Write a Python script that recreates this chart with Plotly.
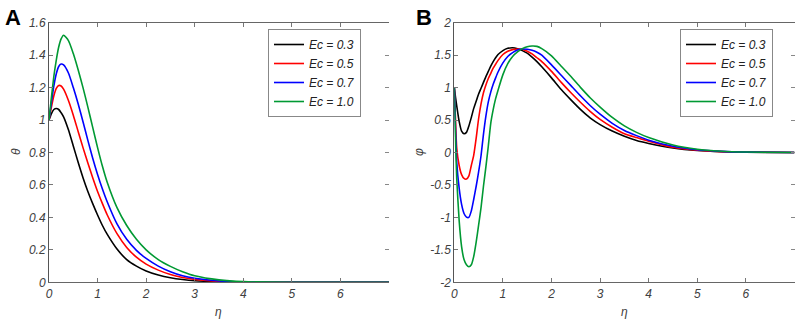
import plotly.graph_objects as go

# ---------------- data ----------------
ec_labels = ["Ec = 0.3", "Ec = 0.5", "Ec = 0.7", "Ec = 1.0"]
colors = ["#000000", "#ff0000", "#0000ff", "#009933"]

# Panel A: theta(eta)
eta_a = [0, 0.05, 0.1, 0.15, 0.2, 0.25, 0.3, 0.4, 0.5, 0.6, 0.7, 0.8, 0.9, 1.0,
         1.1, 1.2, 1.4, 1.6, 1.8, 2.0, 2.25, 2.5, 2.75, 3.0, 3.5, 4.0, 5.0, 6.0, 7.0]
theta_03 = [1.0, 1.04, 1.065, 1.071, 1.065, 1.045, 1.02, 0.94, 0.84, 0.74, 0.645, 0.56, 0.485, 0.415,
            0.35, 0.295, 0.205, 0.14, 0.10, 0.07, 0.045, 0.028, 0.017, 0.01, 0.004, 0.001, 0, 0, 0]
theta_05 = [1.0, 1.08, 1.15, 1.195, 1.213, 1.21, 1.19, 1.12, 1.03, 0.93, 0.83, 0.735, 0.645, 0.56,
            0.485, 0.415, 0.30, 0.215, 0.155, 0.112, 0.075, 0.048, 0.03, 0.018, 0.006, 0.002, 0, 0, 0]
theta_07 = [1.0, 1.11, 1.21, 1.285, 1.33, 1.345, 1.34, 1.29, 1.20, 1.10, 0.99, 0.875, 0.765, 0.665,
            0.575, 0.495, 0.36, 0.265, 0.197, 0.147, 0.10, 0.065, 0.04, 0.025, 0.008, 0.002, 0, 0, 0]
theta_10 = [1.0, 1.14, 1.27, 1.37, 1.45, 1.50, 1.523, 1.49, 1.41, 1.31, 1.20, 1.08, 0.955, 0.83,
            0.715, 0.615, 0.46, 0.35, 0.265, 0.20, 0.14, 0.098, 0.065, 0.04, 0.015, 0.004, 0, 0, 0]

# Panel B: phi(eta)
eta_b = [0, 0.025, 0.05, 0.1, 0.15, 0.2, 0.25, 0.3, 0.35, 0.4, 0.45, 0.5, 0.55, 0.6, 0.65, 0.7,
         0.75, 0.8, 0.85, 0.9, 1.0, 1.1, 1.2, 1.3, 1.4, 1.5, 1.6, 1.7, 1.8, 2.0, 2.2, 2.4, 2.6,
         2.8, 3.0, 3.25, 3.5, 3.75, 4.0, 4.5, 5.0, 5.5, 6.0, 7.0]
phi_03 = [1.0, 0.85, 0.72, 0.48, 0.33, 0.29, 0.31, 0.41, 0.54, 0.68, 0.79, 0.90, 0.99, 1.08, 1.17, 1.25,
          1.33, 1.40, 1.46, 1.51, 1.57, 1.605, 1.615, 1.60, 1.57, 1.53, 1.47, 1.40, 1.32, 1.15, 0.97, 0.81, 0.66,
          0.53, 0.43, 0.33, 0.25, 0.185, 0.14, 0.07, 0.03, 0.012, 0.004, 0.0]
phi_05 = [1.0, 0.5, 0.07, -0.2, -0.34, -0.40, -0.41, -0.36, -0.2, -0.04, 0.22, 0.52, 0.75, 0.92, 1.04, 1.14,
          1.22, 1.30, 1.36, 1.42, 1.51, 1.56, 1.585, 1.595, 1.59, 1.56, 1.52, 1.46, 1.40, 1.25, 1.08, 0.92, 0.77,
          0.63, 0.51, 0.39, 0.29, 0.23, 0.175, 0.08, 0.035, 0.014, 0.005, 0.0]
phi_07 = [1.0, 0.35, -0.15, -0.55, -0.80, -0.94, -0.995, -1.0, -0.90, -0.72, -0.52, -0.30, -0.05, 0.28, 0.56, 0.78,
          0.93, 1.05, 1.15, 1.24, 1.38, 1.48, 1.54, 1.58, 1.595, 1.59, 1.575, 1.545, 1.50, 1.35, 1.19, 1.03, 0.87,
          0.72, 0.59, 0.45, 0.34, 0.26, 0.19, 0.095, 0.042, 0.017, 0.006, 0.0]
phi_10 = [1.0, 0.2, -0.4, -1.05, -1.45, -1.65, -1.73, -1.76, -1.73, -1.6, -1.38, -1.12, -0.85, -0.52, -0.22, 0.1,
          0.45, 0.66, 0.83, 0.96, 1.20, 1.37, 1.48, 1.55, 1.60, 1.63, 1.64, 1.635, 1.60, 1.49, 1.33, 1.17, 1.00,
          0.84, 0.70, 0.54, 0.41, 0.31, 0.23, 0.115, 0.05, 0.02, 0.007, 0.0]

x_ticks = [0, 1, 2, 3, 4, 5, 6, 7]
x_tick_text = ["0", "1", "2", "3", "4", "5", "6", ""]
ya_ticks = [0, 0.2, 0.4, 0.6, 0.8, 1.0, 1.2, 1.4, 1.6]
ya_tick_text = ["0", "0.2", "0.4", "0.6", "0.8", "1", "1.2", "1.4", "1.6"]
yb_ticks = [-2, -1.5, -1, -0.5, 0, 0.5, 1, 1.5, 2]
yb_tick_text = ["-2", "-1.5", "-1", "-0.5", "0", "0.5", "1", "1.5", "2"]

# ---------------- figure ----------------
W, H = 796, 320
fig = go.Figure()

theta_series = [theta_03, theta_05, theta_07, theta_10]
phi_series = [phi_03, phi_05, phi_07, phi_10]

for lab, col, ys in zip(ec_labels, colors, theta_series):
    fig.add_trace(go.Scatter(x=eta_a, y=ys, mode="lines", name=lab,
                             line=dict(color=col, width=1.6, shape="spline", smoothing=0.6),
                             xaxis="x", yaxis="y", legend="legend"))
for lab, col, ys in zip(ec_labels, colors, phi_series):
    fig.add_trace(go.Scatter(x=eta_b, y=ys, mode="lines", name=lab,
                             line=dict(color=col, width=1.6, shape="spline", smoothing=0.6),
                             xaxis="x2", yaxis="y2", legend="legend2"))

# dummy traces to activate right-side tick axes
fig.add_trace(go.Scatter(x=[None], y=[None], xaxis="x", yaxis="y3", showlegend=False, hoverinfo="skip"))
fig.add_trace(go.Scatter(x=[None], y=[None], xaxis="x2", yaxis="y4", showlegend=False, hoverinfo="skip"))

def px_x(p):
    return p / W

def px_y(p):
    return (H - p) / H

tickfont = dict(family="Liberation Sans, Arial", size=12, color="#404040", style="italic")
ydom = [px_y(282.3), px_y(22.7)]

common_x = dict(range=[0, 7], tickvals=x_ticks, ticktext=x_tick_text, ticks="inside", ticklen=4,
                tickcolor="#777", showline=True, linecolor="#666", linewidth=1, mirror="ticks",
                showgrid=False, zeroline=False, tickfont=tickfont, automargin=False)
common_y = dict(ticks="inside", ticklen=4, tickcolor="#777", showline=True, linecolor="#555",
                linewidth=1, showgrid=False, zeroline=False, tickfont=tickfont, domain=ydom,
                automargin=False)
right_y = dict(side="right", showticklabels=False, ticks="inside", ticklen=4, tickcolor="#888",
               showline=False, showgrid=False, zeroline=False, automargin=False)

legend_font = dict(family="Liberation Sans, Arial", size=12, color="#222", style="italic")
legend_common = dict(xanchor="left", yanchor="top", bordercolor="#888", borderwidth=1,
                     bgcolor="white", font=legend_font, itemwidth=30, tracegroupgap=0)

fig.update_layout(
    width=W, height=H, margin=dict(l=0, r=0, t=0, b=0, autoexpand=False),
    paper_bgcolor="white", plot_bgcolor="white",
    xaxis=dict(domain=[px_x(49), px_x(389)], anchor="y", **common_x),
    yaxis=dict(range=[0, 1.6], tickvals=ya_ticks, ticktext=ya_tick_text, anchor="x", **common_y),
    yaxis3=dict(range=[0, 1.6], tickvals=ya_ticks, overlaying="y", anchor="x", **right_y),
    xaxis2=dict(domain=[px_x(454.3), px_x(794.5)], anchor="y2", **common_x),
    yaxis2=dict(range=[-2, 2], tickvals=yb_ticks, ticktext=yb_tick_text, anchor="x2", **common_y),
    yaxis4=dict(range=[-2, 2], tickvals=yb_ticks, overlaying="y2", anchor="x2", **right_y),
    legend=dict(x=px_x(268), y=px_y(29), **legend_common),
    legend2=dict(x=px_x(680), y=px_y(29), **legend_common),
    showlegend=True,
)

ann_font = dict(family="Liberation Sans, Arial", size=12, color="#404040", style="italic")
annotations = [
    dict(text="<b>A</b>", x=px_x(3), y=px_y(3), xanchor="left", yanchor="top",
         font=dict(family="Liberation Sans, Arial", size=22, color="black")),
    dict(text="<b>B</b>", x=px_x(414), y=px_y(3), xanchor="left", yanchor="top",
         font=dict(family="Liberation Sans, Arial", size=22, color="black")),
    dict(text="θ", x=px_x(16), y=px_y(152), textangle=-90, font=ann_font,
         xanchor="center", yanchor="middle"),
    dict(text="φ", x=px_x(419), y=px_y(152), textangle=-90, font=ann_font,
         xanchor="center", yanchor="middle"),
    dict(text="η", x=px_x(218), y=px_y(312), font=ann_font, xanchor="center", yanchor="middle"),
    dict(text="η", x=px_x(624), y=px_y(312), font=ann_font, xanchor="center", yanchor="middle"),
]
for a in annotations:
    a.update(xref="paper", yref="paper", showarrow=False)
fig.update_layout(annotations=annotations)

fig.write_html("out.html", config={"displayModeBar": False},
               post_script="document.body.style.margin='0px';")
